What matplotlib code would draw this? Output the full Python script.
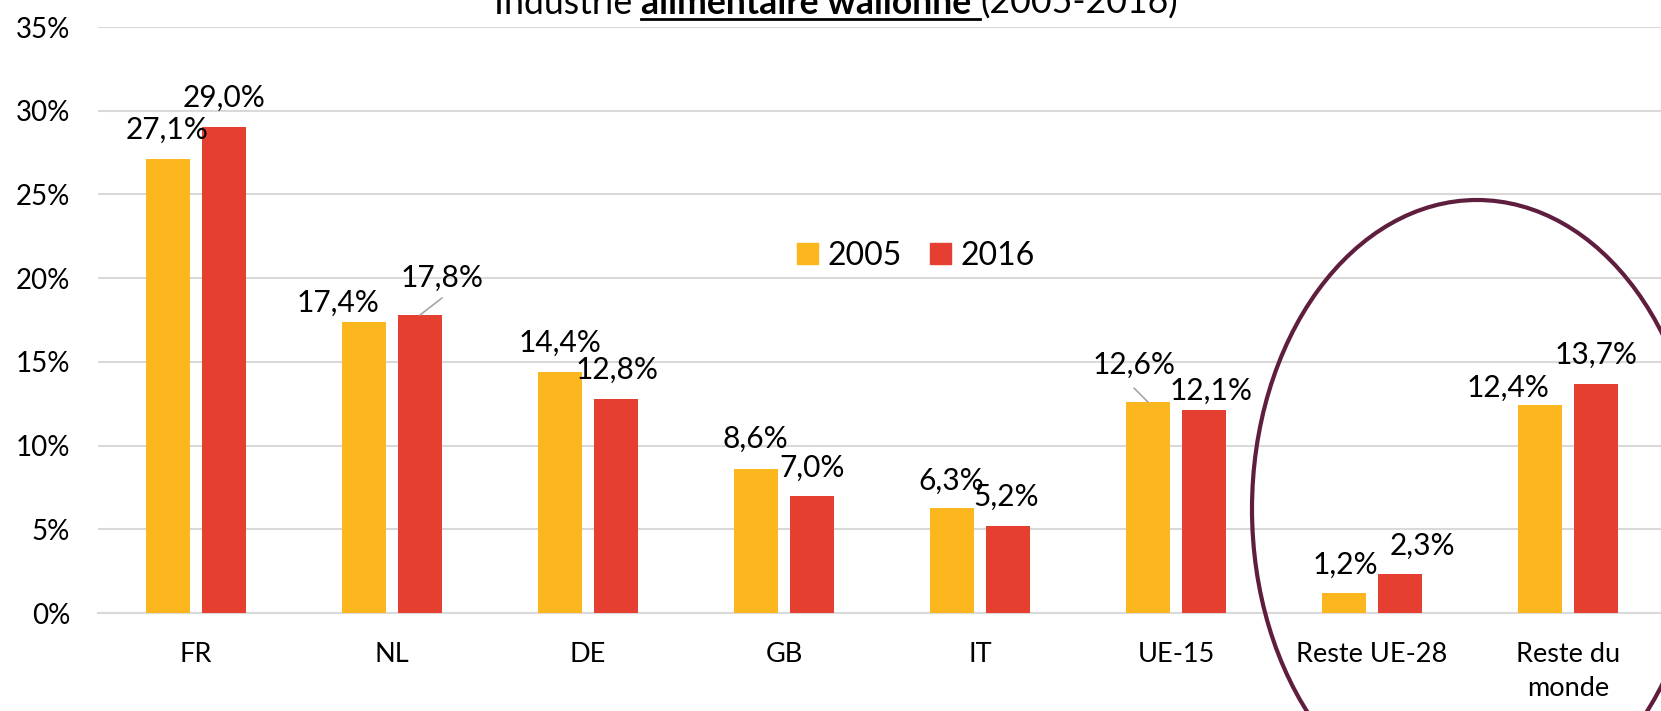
import numpy as np
import matplotlib.pyplot as plt
from matplotlib.patches import Patch, Ellipse
from matplotlib.lines import Line2D
from matplotlib.ticker import FuncFormatter

plt.rcParams['font.family'] = ['Lato', 'DejaVu Sans']

# data (share of exports, %)
categories = ['FR', 'NL', 'DE', 'GB', 'IT', 'UE-15', 'Reste UE-28', 'Reste du\nmonde']
val_2005 = [27.1, 17.4, 14.4, 8.6, 6.3, 12.6, 1.2, 12.4]
val_2016 = [29.0, 17.8, 12.8, 7.0, 5.2, 12.1, 2.3, 13.7]
series_names = ['2005', '2016']

# label placement (pixels from bar top, as in the original chart)
lab_dx_2005 = [-1, -26, 0, -1, -1, -14, 1, -32]
lab_dy_2005 = [20, 10, 20, 21, 18, 28, 19, 9]
lab_dx_2016 = [0, 22, 1, 0, -2, 7, 22, 0]
lab_dy_2016 = [21, 28, 20, 19, 20, 11, 20, 20]

yellow = '#FDB71E'
red = '#E53F32'
grid_col = '#D9D9D9'

W, H = 1661, 711
fig = plt.figure(figsize=(W / 100, H / 100), dpi=100)
ax = fig.add_axes([98 / W, 1 - 613 / H, 8 * 196 / W, (613 - 27) / H])

x = np.arange(len(categories))
bw = 0.224
off = 0.143
ax.bar(x - off, val_2005, bw, color=yellow, zorder=3)
ax.bar(x + off, val_2016, bw, color=red, zorder=3)

ax.set_xlim(-0.5, len(categories) - 0.5)
ax.set_ylim(0, 35)
ax.set_yticks(np.arange(0, 36, 5))
ax.yaxis.set_major_formatter(FuncFormatter(lambda v, p: f'{v:.0f}%'))
ax.set_xticks(x)
ax.set_xticklabels(categories, linespacing=1.45)
ax.tick_params(axis='y', length=0, pad=20, labelsize=20)
ax.tick_params(axis='x', length=0, pad=21, labelsize=19.5)
ax.grid(axis='y', color=grid_col, lw=1.5, zorder=0)
for s in ['top', 'right', 'left']:
    ax.spines[s].set_visible(False)
ax.spines['bottom'].set_color(grid_col)
ax.spines['bottom'].set_linewidth(1.5)

px = 72 / 100  # pixel -> points


def fmt(v):
    return f'{v:.1f}%'.replace('.', ',')


for vals, dxs, dys, sign in [(val_2005, lab_dx_2005, lab_dy_2005, -1),
                             (val_2016, lab_dx_2016, lab_dy_2016, 1)]:
    for i, v in enumerate(vals):
        ax.annotate(fmt(v), xy=(x[i] + sign * off, v), xytext=(dxs[i] * px, dys[i] * px),
                    textcoords='offset points', ha='center', va='baseline', fontsize=21.5)

# leader lines
ax.annotate('', xy=(x[1] + off, val_2016[1]), xytext=(22 * px, 17 * px), textcoords='offset points',
            arrowprops=dict(arrowstyle='-', color='#A6A6A6', lw=1.2, shrinkA=0, shrinkB=0))
ax.annotate('', xy=(x[5] - off, val_2005[5]), xytext=(-14 * px, 14 * px), textcoords='offset points',
            arrowprops=dict(arrowstyle='-', color='#A6A6A6', lw=1.2, shrinkA=0, shrinkB=0))

# legend
handles = [Patch(color=yellow), Patch(color=red)]
fig.legend(handles, series_names, loc='center', bbox_to_anchor=(916 / W, 1 - 256 / H),
           ncol=2, frameon=False, fontsize=23, handlelength=0.65, handleheight=0.65,
           handletextpad=0.3, columnspacing=0.9)

# highlight ellipse
fig.add_artist(Ellipse((1477 / W, 1 - 509 / H), 2 * 225 / W, 2 * 309 / H, transform=fig.transFigure,
                       fill=False, edgecolor='#5F1E3E', lw=3, clip_on=False))

# title (cut at top in the original)
parts = [('Industrie ', 'normal'), ('alimentaire wallonne ', 'bold'), ('(2005-2016)', 'normal')]
fig.canvas.draw()
r = fig.canvas.get_renderer()
size = 22
texts = [fig.text(0, 1 - 14 / H, t, fontsize=size, fontweight=w, va='baseline') for t, w in parts]
widths = [t.get_window_extent(r).width for t in texts]
scale = 681 / sum(widths)
for t in texts:
    t.set_fontsize(size * scale)
widths = [t.get_window_extent(r).width for t in texts]
x0 = 836 - sum(widths) / 2
for t, w in zip(texts, widths):
    t.set_x(x0 / W)
    x0 += w
ux0 = (836 - sum(widths) / 2 + widths[0]) / W
ux1 = ux0 + widths[1] / W
fig.add_artist(Line2D([ux0, ux1], [1 - 19 / H] * 2, transform=fig.transFigure, color='black', lw=2))

plt.savefig('out.png', dpi=100)
